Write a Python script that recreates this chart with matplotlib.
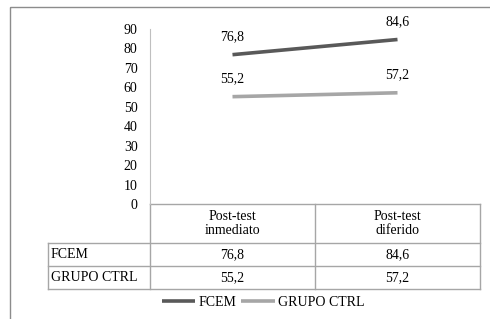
import matplotlib.pyplot as plt
from matplotlib.patches import Rectangle

categories = ["Post-test\ninmediato", "Post-test\ndiferido"]
series_names = ["FCEM", "GRUPO CTRL"]
fcem = [76.8, 84.6]
ctrl = [55.2, 57.2]
yticks = [0, 10, 20, 30, 40, 50, 60, 70, 80, 90]

plt.rcParams["font.family"] = ["Liberation Serif", "DejaVu Serif"]
plt.rcParams["font.size"] = 10

W, H = 490, 319
fig = plt.figure(figsize=(W / 100, H / 100), dpi=100)

# overlay in pixel coordinates for frame and data table
bg = fig.add_axes([0, 0, 1, 1])
bg.set_xlim(0, W)
bg.set_ylim(H, 0)
bg.axis("off")
bg.add_patch(Rectangle((10, 7), 500, 330, fill=False, edgecolor="#8c8c8c", lw=1))

def fmt(v):
    return f"{v:.1f}".replace(".", ",")

ax = fig.add_axes([150 / W, 1 - 204 / H, 330 / W, 175 / H])
colors = ["#595959", "#a6a6a6"]
x = list(range(len(categories)))
for vals, name, c in zip([fcem, ctrl], series_names, colors):
    ax.plot(x, vals, color=c, lw=2.6, label=name, solid_capstyle="butt")
    for xi, v in zip(x, vals):
        ax.annotate(fmt(v), (xi, v), xytext=(0, 8),
                    textcoords="offset points", ha="center", va="bottom")

ax.set_xlim(-0.5, len(categories) - 0.5)
ax.set_ylim(0, 90)
ax.set_yticks(yticks)
ax.set_xticks([])
ax.tick_params(axis="y", length=0, pad=9)
for s in ["top", "right", "bottom"]:
    ax.spines[s].set_visible(False)
ax.spines["left"].set_color("#bfbfbf")
ax.patch.set_alpha(0)

# data table
col_x = [150, 315, 480]
lab_x0 = 48
row_y = [204, 243, 266, 289]
lc = "#a6a6a6"
bg.plot([col_x[0], col_x[-1]], [row_y[0]] * 2, color=lc, lw=1)
for yy in row_y[1:]:
    bg.plot([lab_x0, col_x[-1]], [yy] * 2, color=lc, lw=1)
bg.plot([lab_x0, lab_x0], [row_y[1], row_y[-1]], color=lc, lw=1)
for xx in col_x:
    bg.plot([xx, xx], [row_y[0], row_y[-1]], color=lc, lw=1)
for i, cat in enumerate(categories):
    bg.text((col_x[i] + col_x[i + 1]) / 2, (row_y[0] + row_y[1]) / 2, cat,
            ha="center", va="center", linespacing=1.0)
for r, (name, vals) in enumerate(zip(series_names, [fcem, ctrl])):
    yc = (row_y[r + 1] + row_y[r + 2]) / 2
    bg.text(lab_x0 + 3, yc, name, ha="left", va="center")
    for i, v in enumerate(vals):
        bg.text((col_x[i] + col_x[i + 1]) / 2, yc, fmt(v), ha="center", va="center")

fig.legend(loc="center", bbox_to_anchor=(263 / W, 1 - 302 / H), ncol=2, frameon=False,
           handlelength=2.4, handletextpad=0.2, columnspacing=0.4,
           borderpad=0, fontsize=10)

fig.savefig("out.png", dpi=100)
